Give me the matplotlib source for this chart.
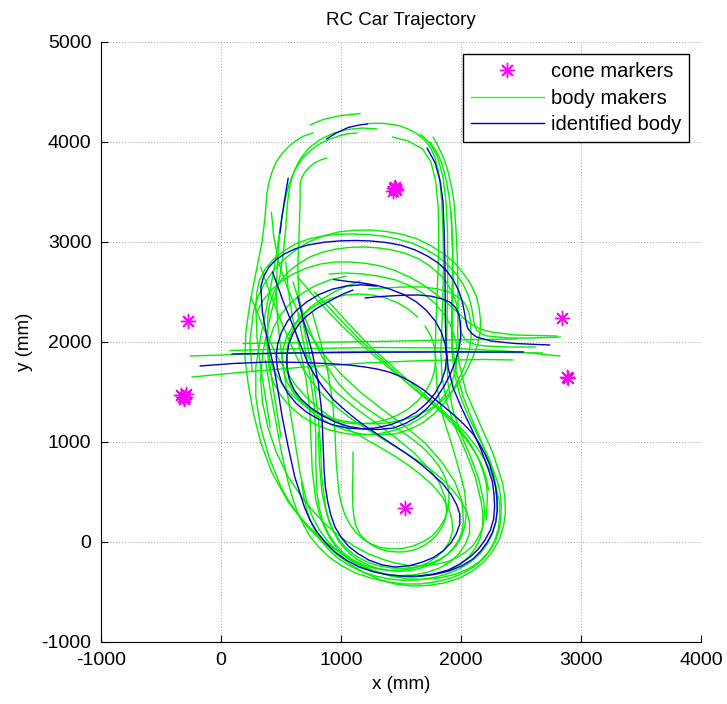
import matplotlib
matplotlib.use("Agg")
import matplotlib.pyplot as plt
from matplotlib.lines import Line2D

plt.rcParams['font.family'] = ['Liberation Sans', 'DejaVu Sans']
plt.rcParams['axes.unicode_minus'] = False

# ---------------- data (mm) ----------------
cone_x = [-275, 2842, 1533, 2885, 2895, -330, -300, -310, -290, -320,
          1440, 1460, 1450, 1435, 1455]
cone_y = [2210, 2240, 340, 1650, 1640, 1470, 1450, 1430, 1480, 1455,
          3540, 3520, 3550, 3515, 3535]

# identified body (blue)
body_01 = [(880, 4030), (960, 4090), (1060, 4145), (1160, 4172), (1220, 4180)]
body_02 = [(560, 3640), (535, 3460), (510, 3270), (492, 3090)]
body_03 = [(1717, 3940), (1785, 3790), (1828, 3600), (1850, 3400), (1860, 3100),
           (1866, 2800), (1868, 2500), (1870, 2200), (1876, 1950), (1893, 1740),
           (1935, 1540), (2005, 1340), (2085, 1140), (2165, 930), (2230, 720),
           (2262, 600), (2275, 480), (2280, 355), (2272, 230), (2245, 120),
           (2200, 20), (2145, -70), (2075, -150), (1990, -220), (1895, -280),
           (1775, -320), (1650, -340), (1525, -342), (1400, -330), (1275, -300),
           (1150, -250), (1045, -182), (950, -100), (870, -5), (800, 100),
           (740, 222), (695, 350), (615, 650), (560, 950), (510, 1250),
           (470, 1550), (440, 1750), (390, 2000), (345, 2300), (332, 2550),
           (355, 2655), (400, 2750), (460, 2825), (535, 2885), (625, 2935),
           (725, 2970), (860, 2998), (1000, 3012), (1125, 3015), (1250, 3010),
           (1375, 2995), (1500, 2968), (1615, 2922), (1720, 2860), (1808, 2792),
           (1878, 2715), (1935, 2622), (1978, 2520), (2010, 2410), (2028, 2300),
           (2040, 2215), (2055, 2140), (2085, 2090), (2130, 2050), (2250, 2010),
           (2450, 1985), (2740, 1970)]
body_04 = [(1294, 2559), (1170, 2572), (1046, 2560), (927, 2528), (815, 2474),
           (713, 2400), (626, 2312), (555, 2210), (503, 2096), (471, 1975),
           (460, 1850), (471, 1725), (503, 1604), (555, 1490), (626, 1387),
           (713, 1298), (815, 1226), (927, 1173), (1046, 1141), (1170, 1130),
           (1294, 1141), (1413, 1173), (1525, 1226), (1627, 1298), (1714, 1387),
           (1785, 1490), (1837, 1604), (1869, 1725), (1880, 1850), (1869, 1975),
           (1837, 2096), (1785, 2210), (1714, 2313), (1627, 2402), (1525, 2474),
           (1413, 2527), (1300, 2565), (1180, 2590), (1060, 2605), (940, 2625)]
body_05 = [(1100, 2520), (1000, 2470), (890, 2400), (790, 2330), (715, 2260),
           (650, 2180), (600, 2085), (565, 1980), (550, 1865), (550, 1750),
           (570, 1630), (610, 1520), (670, 1425), (750, 1340), (845, 1265),
           (950, 1200), (1065, 1155), (1190, 1130), (1315, 1125), (1440, 1140),
           (1545, 1190), (1640, 1255), (1722, 1342), (1795, 1440), (1860, 1560),
           (1915, 1690), (1955, 1815), (1985, 1940), (1998, 2065), (1995, 2190),
           (1982, 2275), (1955, 2345), (1908, 2398), (1845, 2430), (1750, 2458),
           (1650, 2470), (1525, 2468), (1400, 2460), (1300, 2452), (1200, 2440)]
body_06 = [(430, 2700), (520, 2400), (620, 2100), (720, 1800), (780, 1670),
           (850, 1550), (940, 1420), (1050, 1300), (1170, 1185), (1300, 1080),
           (1425, 980), (1550, 880), (1660, 783), (1760, 680), (1850, 580),
           (1920, 470), (1965, 370), (1990, 280), (1990, 180), (1960, 80),
           (1915, -10), (1850, -90), (1770, -155), (1680, -200), (1570, -238),
           (1450, -250), (1340, -228), (1230, -180), (1140, -115), (1060, -40),
           (1000, 50), (950, 150), (915, 270), (890, 400), (870, 550),
           (860, 700), (850, 1000), (840, 1300), (810, 1600), (760, 1900),
           (690, 2200), (640, 2450)]
body_07 = [(90, 1880), (600, 1890), (1200, 1897), (1800, 1900), (2300, 1900),
           (2520, 1900)]
body_08 = [(-175, 1760), (100, 1785), (400, 1800), (700, 1795), (950, 1780),
           (1080, 1768), (1200, 1750), (1300, 1730), (1400, 1700), (1505, 1652),
           (1600, 1590), (1690, 1520), (1770, 1440), (1862, 1350), (1950, 1260),
           (2030, 1170), (2100, 1080), (2155, 980), (2200, 880), (2240, 770),
           (2270, 650), (2290, 535), (2300, 420), (2302, 310), (2290, 200),
           (2262, 95), (2220, 0), (2165, -90), (2100, -170), (2005, -240),
           (1900, -290), (1775, -325), (1650, -340)]

# body markers (green)
mark_01 = [(767, 4090), (690, 4060), (620, 4010), (560, 3950), (505, 3880),
           (460, 3800), (425, 3700), (400, 3600), (382, 3480), (367, 3250),
           (342, 3000), (292, 2700), (243, 2400), (207, 2100), (200, 1850),
           (225, 1590), (268, 1300), (330, 1000), (422, 700), (560, 400),
           (650, 260), (740, 125), (850, 0), (960, -120), (1080, -225),
           (1200, -310), (1320, -375), (1450, -420), (1590, -440), (1720, -435),
           (1860, -410), (1980, -365), (2090, -295), (2190, -200), (2265, -90),
           (2320, 30), (2355, 160), (2370, 300), (2365, 450), (2345, 600),
           (2262, 900), (2150, 1200), (2042, 1500), (1982, 1800), (1972, 2100),
           (1976, 2450), (1970, 2800), (1960, 3100), (1942, 3400), (1920, 3560),
           (1893, 3700), (1865, 3810), (1832, 3900), (1800, 3980), (1767, 4050)]
mark_02 = [(742, 4170), (850, 4225), (1000, 4265), (1160, 4285)]
mark_03 = [(1217, 4182), (1285, 4188), (1350, 4186), (1420, 4177), (1490, 4160),
           (1557, 4131), (1620, 4092), (1673, 4045), (1718, 3990), (1753, 3925),
           (1780, 3850), (1803, 3755), (1820, 3650), (1840, 3400), (1850, 3100),
           (1854, 2800), (1850, 2500), (1842, 2200), (1832, 1900), (1842, 1650),
           (1880, 1400), (1950, 1150), (2040, 900), (2120, 650), (2168, 400),
           (2183, 275), (2180, 150), (2160, 40), (2120, -60), (2065, -147),
           (2000, -222), (1915, -276), (1820, -312), (1710, -338), (1600, -352),
           (1485, -345), (1370, -322), (1257, -283), (1150, -232), (1050, -162),
           (960, -80), (885, 15), (820, 120), (765, 245), (720, 380),
           (660, 680), (620, 980), (580, 1280), (540, 1580), (502, 1900),
           (472, 2200), (460, 2500), (470, 2800), (490, 3100)]
mark_04 = [(1430, 4050), (1560, 4010), (1680, 3930), (1750, 3800), (1790, 3600),
           (1810, 3350), (1815, 3050), (1810, 2750), (1800, 2450), (1790, 2150),
           (1785, 1850), (1800, 1550), (1850, 1250), (1930, 950), (2000, 650),
           (2030, 510), (2040, 380), (2042, 260), (2030, 150), (2003, 50),
           (1960, -40), (1900, -112), (1830, -170), (1740, -215), (1640, -250),
           (1530, -263), (1420, -260), (1315, -238), (1220, -200), (1135, -146),
           (1060, -80), (995, 5), (940, 100), (900, 220), (870, 350),
           (840, 650), (830, 950), (810, 1250), (780, 1550), (740, 1850),
           (690, 2150), (650, 2450), (640, 2750), (650, 3050), (658, 3350),
           (660, 3590), (675, 3650), (700, 3700), (735, 3748), (780, 3790),
           (830, 3820), (883, 3840)]
mark_05 = [(1133, 4090), (1055, 4082), (980, 4060), (900, 4025), (820, 3980),
           (750, 3920), (690, 3850), (640, 3770), (600, 3680), (565, 3570),
           (540, 3450), (500, 3200), (470, 2950), (430, 2650), (380, 2350),
           (330, 2050), (290, 1750), (290, 1450), (330, 1150), (400, 850),
           (500, 550), (565, 410), (640, 280), (730, 155), (830, 40),
           (940, -65), (1060, -160), (1180, -237), (1300, -300), (1430, -345),
           (1560, -370), (1690, -373), (1820, -360), (1945, -325), (2060, -270),
           (2155, -195), (2230, -100), (2280, 10), (2310, 130), (2323, 260),
           (2320, 400), (2270, 680), (2190, 950), (2100, 1200), (2020, 1450),
           (1960, 1700), (1930, 1950), (1930, 2250), (1935, 2600), (1930, 2950),
           (1915, 3300), (1900, 3455), (1880, 3600), (1855, 3730), (1820, 3850),
           (1780, 3935), (1740, 4000)]
mark_06 = [(260, 1700), (240, 2000), (270, 2300), (305, 2445), (360, 2580),
           (430, 2705), (520, 2820), (620, 2918), (730, 3000), (850, 3060),
           (980, 3100), (1115, 3118), (1250, 3120), (1375, 3105), (1500, 3080),
           (1625, 3035), (1740, 2970), (1845, 2890), (1940, 2800), (2015, 2695),
           (2080, 2580), (2125, 2465), (2150, 2350), (2162, 2225), (2160, 2100),
           (2138, 1975), (2100, 1850), (2050, 1720), (1990, 1600), (1915, 1495),
           (1830, 1400), (1730, 1322), (1620, 1260), (1500, 1215), (1380, 1190),
           (1255, 1182), (1130, 1190), (1010, 1212), (890, 1250), (780, 1307),
           (680, 1380), (595, 1465), (520, 1560), (465, 1665), (420, 1780),
           (392, 1900), (380, 2020)]
mark_07 = [(410, 1150), (370, 1450), (330, 1750), (300, 2050), (290, 2350),
           (298, 2490), (320, 2620), (370, 2735), (440, 2830), (525, 2912),
           (620, 2980), (730, 3030), (850, 3060), (975, 3077), (1100, 3080),
           (1225, 3074), (1350, 3060), (1470, 3030), (1590, 2990), (1700, 2932),
           (1800, 2860), (1887, 2775), (1960, 2680), (2017, 2578), (2060, 2470),
           (2085, 2365), (2100, 2260), (2110, 2180), (2130, 2120), (2170, 2080),
           (2220, 2060), (2400, 2040), (2600, 2040), (2830, 2050)]
mark_08 = [(500, 1050), (460, 1350), (420, 1650), (390, 1950), (390, 2250),
           (405, 2380), (440, 2500), (492, 2605), (560, 2700), (645, 2782),
           (740, 2850), (845, 2898), (960, 2930), (1080, 2947), (1200, 2950),
           (1315, 2940), (1430, 2920), (1545, 2882), (1650, 2830), (1740, 2760),
           (1820, 2680), (1882, 2590), (1930, 2490), (1962, 2385), (1980, 2280),
           (1990, 2180), (2000, 2100), (2025, 2040), (2060, 2000), (2120, 1975),
           (2200, 1960), (2400, 1950), (2620, 1950)]
mark_09 = [(1043, 2658), (910, 2622), (785, 2563), (672, 2483), (575, 2384),
           (496, 2270), (437, 2144), (402, 2009), (390, 1870), (402, 1731),
           (437, 1596), (496, 1470), (575, 1356), (672, 1257), (785, 1177),
           (910, 1118), (1043, 1082), (1180, 1070), (1317, 1082), (1450, 1118),
           (1575, 1177), (1688, 1257), (1785, 1356), (1864, 1470), (1923, 1596),
           (1958, 1731), (1970, 1870), (1958, 2009), (1923, 2144), (1864, 2270),
           (1785, 2384), (1688, 2483), (1575, 2563), (1450, 2622), (1317, 2658),
           (1180, 2680), (1040, 2690), (900, 2680)]
mark_10 = [(1640, 2248), (1562, 2328), (1470, 2393), (1369, 2441), (1261, 2470),
           (1150, 2480), (1039, 2470), (931, 2441), (830, 2393), (738, 2328),
           (660, 2248), (596, 2155), (548, 2052), (520, 1943), (510, 1830),
           (520, 1717), (548, 1608), (596, 1505), (660, 1412), (738, 1332),
           (830, 1267), (931, 1219), (1039, 1190), (1150, 1180), (1261, 1190),
           (1369, 1219), (1470, 1267), (1562, 1332), (1640, 1412), (1704, 1505),
           (1752, 1608), (1780, 1717), (1790, 1830), (1780, 1943), (1752, 2052),
           (1700, 2160)]
mark_11 = [(1160, 2610), (1060, 2565), (950, 2505), (830, 2420), (745, 2350),
           (680, 2270), (620, 2175), (580, 2070), (553, 1945), (545, 1820),
           (555, 1695), (580, 1570), (635, 1455), (710, 1350), (800, 1257),
           (910, 1180), (1035, 1120), (1170, 1080), (1310, 1070), (1450, 1080),
           (1570, 1125), (1680, 1190), (1775, 1282), (1860, 1390), (1930, 1512),
           (1990, 1650), (2040, 1785), (2070, 1920), (2085, 2060), (2080, 2200),
           (2065, 2300), (2030, 2390), (1970, 2455), (1900, 2500), (1800, 2532),
           (1690, 2550), (1565, 2552), (1440, 2545), (1330, 2538), (1230, 2530)]
mark_12 = [(330, 2750), (420, 2450), (520, 2150), (630, 1850), (695, 1710),
           (770, 1580), (865, 1450), (980, 1330), (1105, 1215), (1240, 1110),
           (1370, 1013), (1500, 920), (1625, 825), (1740, 730), (1845, 628),
           (1930, 520), (2000, 410), (2050, 300), (2072, 190), (2070, 80),
           (2035, -25), (1980, -120), (1910, -200), (1820, -260), (1715, -305),
           (1600, -330), (1480, -335), (1360, -320), (1245, -283), (1140, -230),
           (1050, -158), (970, -70), (910, 35), (860, 150), (820, 280),
           (790, 420), (760, 720), (750, 1020), (740, 1320), (710, 1620),
           (660, 1920), (600, 2220), (560, 2520), (540, 2800)]
mark_13 = [(600, 2600), (680, 2300), (780, 2000), (900, 1720), (980, 1585),
           (1080, 1460), (1195, 1350), (1320, 1250), (1440, 1155), (1560, 1060),
           (1665, 962), (1750, 860), (1820, 752), (1870, 640), (1897, 530),
           (1900, 420), (1888, 315), (1860, 220), (1815, 135), (1760, 60),
           (1685, 3), (1600, -40), (1510, -65), (1420, -70), (1330, -55),
           (1250, -20), (1180, 32), (1120, 100), (1070, 185), (1030, 280),
           (1000, 395), (980, 520), (960, 800), (950, 1100), (930, 1400),
           (890, 1700), (830, 2000), (760, 2300)]
mark_14 = [(250, 2450), (350, 2150), (470, 1850), (620, 1570), (713, 1445),
           (820, 1330), (937, 1227), (1060, 1130), (1190, 1038), (1320, 950),
           (1443, 862), (1560, 770), (1670, 668), (1770, 560), (1845, 450),
           (1900, 330), (1925, 220), (1930, 110), (1905, 10), (1860, -80),
           (1795, -150), (1720, -210), (1625, -255), (1520, -280), (1410, -285),
           (1300, -270), (1195, -233), (1100, -180), (1020, -107), (950, -20),
           (895, 85), (850, 200), (820, 335), (800, 480), (790, 780),
           (790, 1080), (775, 1380), (740, 1680), (690, 1980), (640, 2280)]
mark_15 = [(900, 2400), (1050, 2200), (1250, 1950), (1480, 1700), (1720, 1450),
           (1840, 1325), (1950, 1200), (2048, 1075), (2130, 950), (2197, 825),
           (2250, 700), (2285, 575), (2300, 450), (2302, 325), (2290, 200),
           (2262, 85), (2220, -20), (2160, -115), (2080, -200), (1988, -268),
           (1880, -320), (1763, -358), (1640, -380), (1520, -384), (1400, -370),
           (1280, -338), (1160, -290), (1055, -227), (960, -150), (880, -55),
           (810, 50), (760, 170), (720, 300), (690, 450), (670, 600)]
mark_16 = [(780, 2500), (950, 2280), (1150, 2030), (1380, 1780), (1620, 1520),
           (1740, 1400), (1850, 1280), (1950, 1155), (2040, 1030), (2110, 905),
           (2170, 780), (2207, 650), (2230, 520)]
mark_17 = [(-258, 1860), (400, 1885), (1100, 1905), (1800, 1905), (2400, 1895),
           (2683, 1890)]
mark_18 = [(-242, 1650), (200, 1700), (700, 1750), (1200, 1790), (1700, 1815),
           (2200, 1825), (2433, 1820)]
mark_19 = [(75, 1915), (700, 1935), (1300, 1945), (1900, 1940), (2500, 1900),
           (2825, 1860)]
mark_20 = [(183, 1985), (700, 1995), (1300, 2005), (1900, 2020), (2467, 2030)]
mark_21 = [(300, 2300), (350, 2415), (420, 2520), (505, 2607), (600, 2680),
           (710, 2738), (830, 2780), (955, 2800), (1080, 2800), (1205, 2787),
           (1330, 2760), (1450, 2715), (1570, 2650), (1680, 2575), (1780, 2490),
           (1870, 2405), (1950, 2320), (2020, 2240), (2080, 2180), (2160, 2130),
           (2250, 2100), (2450, 2070), (2800, 2060)]
mark_22 = [(1920, 3300), (1930, 2900), (1925, 2500), (1920, 2150), (1925, 1900),
           (1945, 1680), (1990, 1470), (2060, 1260), (2150, 1040), (2240, 820),
           (2310, 580), (2330, 465), (2335, 350), (2332, 240), (2320, 130),
           (2292, 25), (2250, -70), (2192, -160), (2120, -240), (2025, -307),
           (1920, -360), (1795, -397), (1660, -420), (1525, -420), (1390, -400),
           (1255, -362), (1120, -310), (1005, -237), (900, -150), (812, -47),
           (740, 60), (682, 185), (630, 320), (590, 465), (555, 620),
           (500, 920), (455, 1220), (410, 1520), (370, 1820)]
mark_23 = [(640, 2650), (800, 2420), (1000, 2170), (1220, 1920), (1460, 1680),
           (1700, 1450), (1920, 1220), (2005, 1100), (2080, 980), (2140, 850),
           (2180, 720), (2210, 590), (2220, 460), (2210, 220)]
mark_24 = [(1300, 4130), (1180, 4140), (1050, 4125), (930, 4085), (820, 4020),
           (730, 3935), (660, 3830), (610, 3710), (575, 3570), (555, 3400),
           (540, 3150), (520, 2900), (490, 2650), (440, 2400), (390, 2150),
           (350, 1900), (330, 1650), (345, 1400), (390, 1150), (460, 900),
           (560, 650), (690, 420), (770, 305), (850, 200), (940, 105),
           (1030, 20), (1130, -55), (1230, -120), (1340, -170), (1450, -210),
           (1565, -235), (1680, -240), (1785, -225), (1880, -200), (1965, -155),
           (2040, -100), (2100, -35), (2140, 40), (2172, 120), (2190, 210),
           (2195, 305), (2190, 400), (2150, 620), (2080, 850), (2000, 1080),
           (1930, 1330), (1890, 1600), (1880, 1900), (1885, 2300), (1890, 2700),
           (1888, 3100), (1875, 3400), (1850, 3650), (1805, 3850), (1740, 3990),
           (1660, 4080)]
mark_25 = [(420, 3300), (440, 3050), (480, 2800), (550, 2550), (640, 2300),
           (740, 2080), (860, 1870), (1000, 1680), (1160, 1500), (1340, 1330),
           (1530, 1160), (1700, 990), (1840, 800), (1950, 600), (2010, 400),
           (2020, 200), (2008, 105), (1980, 20), (1940, -55), (1890, -120),
           (1830, -175), (1760, -220), (1680, -255), (1600, -280), (1515, -292),
           (1430, -290), (1345, -275), (1270, -250), (1195, -213), (1130, -170),
           (1070, -113), (1020, -50), (975, 20), (940, 100), (905, 190),
           (880, 280), (840, 500), (820, 800), (810, 1100)]
mark_26 = [(700, 1900), (820, 1680), (960, 1500), (1120, 1340), (1290, 1190),
           (1460, 1040), (1610, 890), (1730, 740), (1820, 590), (1870, 440),
           (1880, 300), (1870, 230), (1850, 170), (1823, 112), (1790, 60),
           (1748, 12), (1700, -30), (1648, -62), (1590, -85), (1530, -98),
           (1470, -100), (1408, -95), (1350, -80), (1297, -57), (1250, -25),
           (1207, 15), (1170, 60), (1142, 115), (1120, 180), (1108, 250),
           (1100, 330), (1095, 520), (1100, 720), (1100, 900)]

body_tracks = [body_01, body_02, body_03, body_04, body_05, body_06, body_07, body_08]
marker_tracks = [mark_01, mark_02, mark_03, mark_04, mark_05, mark_06, mark_07,
                 mark_08, mark_09, mark_10, mark_11, mark_12, mark_13, mark_14,
                 mark_15, mark_16, mark_17, mark_18, mark_19, mark_20, mark_21,
                 mark_22, mark_23, mark_24, mark_25, mark_26]

x_ticks = [-1000, 0, 1000, 2000, 3000, 4000]
y_ticks = [-1000, 0, 1000, 2000, 3000, 4000, 5000]

GREEN = '#00f000'
BLUE = '#0000c8'
MAGENTA = '#ff00ff'

# ---------------- figure ----------------
fig = plt.figure(figsize=(7.27, 7.04), dpi=100)
ax = fig.add_axes([101 / 727, 62 / 704, 600 / 727, 600 / 704])

for tr in marker_tracks:
    xs = [p[0] for p in tr]
    ys = [p[1] for p in tr]
    ax.plot(xs, ys, color=GREEN, lw=1.0, solid_joinstyle='round',
            solid_capstyle='round')
for tr in body_tracks:
    xs = [p[0] for p in tr]
    ys = [p[1] for p in tr]
    ax.plot(xs, ys, color=BLUE, lw=1.0, solid_joinstyle='round',
            solid_capstyle='round')

ax.plot(cone_x, cone_y, linestyle='none', marker=(8, 2, 0), markersize=11,
        markeredgewidth=1.0, color=MAGENTA, markeredgecolor=MAGENTA)

ax.set_xlim(-1000, 4000)
ax.set_ylim(-1000, 5000)
ax.set_xticks(x_ticks)
ax.set_yticks(y_ticks)
ax.tick_params(direction='in', length=5, width=0.8, labelsize=14)
ax.tick_params(axis='x', pad=7)
ax.tick_params(axis='y', pad=7)
ax.spines['top'].set_visible(False)
ax.spines['right'].set_visible(False)
ax.grid(True, linestyle=(0, (1, 2)), color='#a0a0a0', linewidth=0.7)
ax.set_axisbelow(True)

ax.set_title('RC Car Trajectory', fontsize=13.5, pad=12)
ax.set_xlabel('x (mm)', fontsize=13.5, labelpad=5)
ax.set_ylabel('y (mm)', fontsize=13.5, labelpad=6)

handles = [
    Line2D([], [], linestyle='none', marker=(8, 2, 0), markersize=11,
           markeredgewidth=1.0, color=MAGENTA),
    Line2D([], [], color='#30f030', lw=1.0),
    Line2D([], [], color=BLUE, lw=1.0),
]
leg = ax.legend(handles, ['cone markers', 'body makers', 'identified body'],
                loc='upper right', bbox_to_anchor=(0.98, 0.98), fontsize=14.5,
                frameon=True, fancybox=False, edgecolor='black', framealpha=1,
                handlelength=3.6, handletextpad=0.35, labelspacing=0.38,
                borderpad=0.4, borderaxespad=0)
leg.get_frame().set_linewidth(1.0)

fig.savefig('out.png', dpi=100)
